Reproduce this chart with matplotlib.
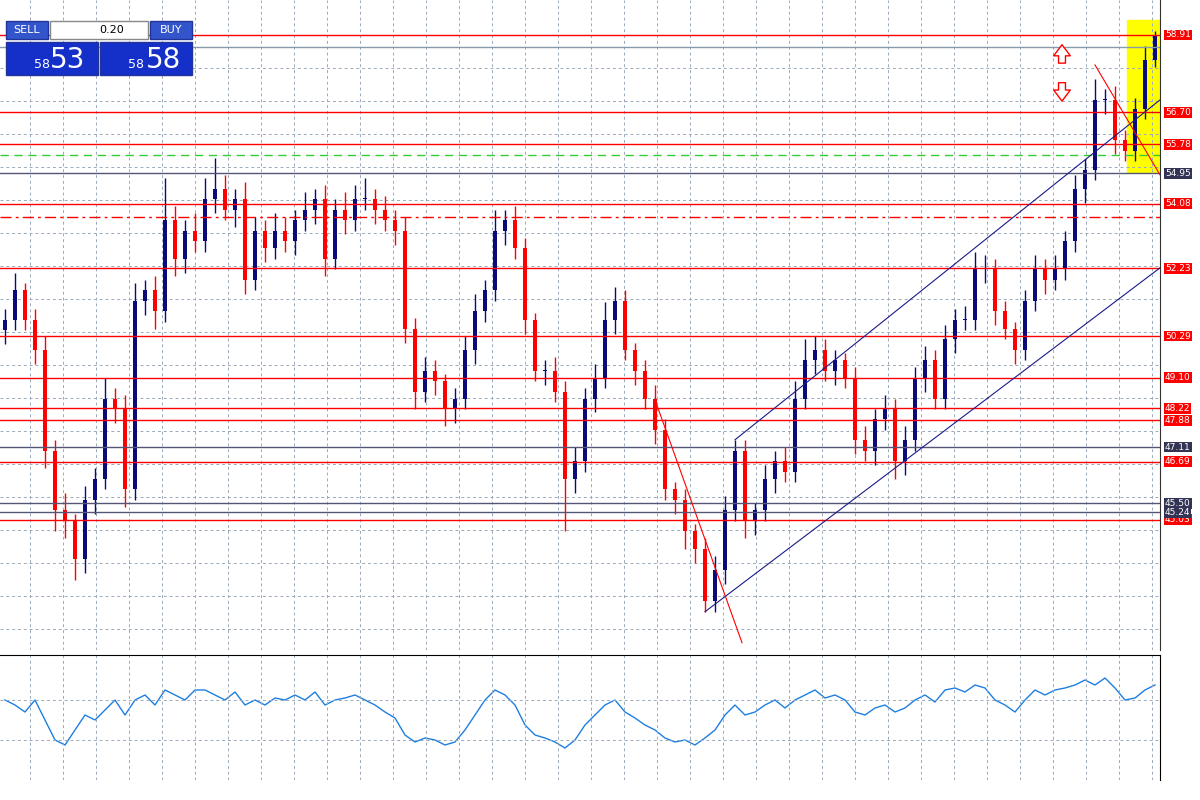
import matplotlib
matplotlib.use("Agg")
import matplotlib.pyplot as plt
from matplotlib.patches import Rectangle

closes = [50.75,51.6,50.75,49.9,47.0,45.3,45.0,43.9,45.6,46.2,48.5,48.2,45.9,51.3,51.6,51.0,53.6,52.5,53.3,53.0,
          54.2,54.5,53.9,54.2,51.9,53.3,52.8,53.3,53.0,53.6,53.9,54.2,52.5,53.9,53.6,54.2,54.2,53.9,53.6,53.3,
          50.5,48.7,49.3,49.0,48.2,48.5,49.9,51.0,51.6,53.3,53.6,52.8,50.75,49.3,49.3,48.7,46.2,46.7,48.5,49.1,
          50.75,51.3,49.9,49.3,48.5,47.6,45.9,45.6,44.7,44.2,42.7,43.6,45.3,47.0,45.0,45.3,46.2,46.7,46.4,48.5,
          49.6,49.9,49.3,49.6,49.1,47.3,47.0,47.9,48.2,46.7,47.3,49.1,49.6,48.5,50.2,50.75,50.75,52.2,52.2,51.0,
          50.5,49.9,51.3,52.2,51.9,52.2,53.0,54.5,55.05,57.05,57.05,55.9,55.6,56.8,58.2,58.91]
wick_up = [0.3,0.5,0.2,0.3,0.4,0.3,0.5,0.2,0.4,0.3,0.6,0.3,0.4,0.5,0.3,0.4,1.2,0.4,0.3,0.5,
           0.6,0.9,0.4,0.3,0.5,0.4,0.3,0.5,0.4,0.3,0.5,0.3,0.4,0.3,0.5,0.4,0.6,0.3,0.4,0.3,
           0.4,0.3,0.4,0.3,0.2,0.3,0.4,0.5,0.3,0.6,0.3,0.4,0.3,0.2,0.3,0.4,0.3,0.4,0.3,0.4,
           0.5,0.4,0.3,0.2,0.3,0.4,0.3,0.2,0.3,0.2,0.3,0.4,0.4,0.3,0.3,0.2,0.4,0.3,0.4,0.5,
           0.6,0.4,0.3,0.3,0.2,0.3,0.4,0.3,0.4,0.3,0.4,0.3,0.4,0.3,0.4,0.3,0.4,0.5,0.4,0.3,
           0.3,0.2,0.3,0.4,0.3,0.4,0.3,0.4,0.3,0.6,0.3,0.4,0.3,0.3,0.4,0.1]
wick_dn = [0.4,0.3,0.3,0.4,0.5,0.6,0.5,0.6,0.4,0.4,0.3,0.4,0.5,0.3,0.4,0.5,0.3,0.5,0.4,0.3,
           0.3,0.4,0.3,0.5,0.4,0.3,0.4,0.3,0.3,0.4,0.3,0.4,0.5,0.3,0.4,0.3,0.3,0.4,0.3,0.4,
           0.4,0.5,0.3,0.4,0.5,0.4,0.3,0.4,0.3,0.3,0.4,0.3,0.4,0.3,0.4,0.3,1.5,0.4,0.3,0.4,
           0.3,0.4,0.3,0.4,0.3,0.4,0.3,0.4,0.5,0.4,0.3,0.3,0.4,0.3,0.5,0.4,0.3,0.4,0.3,0.3,
           0.3,0.4,0.3,0.4,0.3,0.4,0.3,0.4,0.3,0.5,0.4,0.3,0.4,0.3,0.3,0.4,0.3,0.3,0.4,0.4,
           0.3,0.4,0.3,0.3,0.4,0.3,0.3,0.3,0.4,0.3,0.4,0.4,0.3,0.3,0.3,0.2]
ind = [700,705,712,700,720,740,745,730,715,720,710,700,715,700,695,705,690,695,700,690,
       690,695,700,692,705,700,705,698,700,695,700,692,705,700,698,695,700,705,712,718,
       735,742,738,740,745,742,730,715,700,690,695,705,725,735,738,742,748,740,725,715,
       705,700,712,718,725,730,738,742,740,745,738,730,715,705,715,712,705,700,708,700,
       695,690,698,695,700,712,715,708,705,712,708,700,695,702,690,688,692,685,688,700,
       705,712,700,690,695,690,688,685,680,685,678,688,700,698,690,685]
red_levels = [58.91,56.70,55.78,54.08,52.23,50.29,49.10,48.22,47.88,46.69,45.03]
gray_levels = [54.95,47.11,45.50,45.24]

fig = plt.figure(figsize=(12,8), dpi=100)
fig.patch.set_facecolor("white")
ax = fig.add_axes([0, 150/800, 1160/1200, 650/800])
ax.set_xlim(-0.5, 115.5); ax.set_ylim(41.3, 59.91)
opens = [closes[0]-0.3] + closes[:-1]
for i,(o,c) in enumerate(zip(opens,closes)):
    col = "#0a0a78" if c >= o else "red"
    hi = max(o,c)+wick_up[i]; lo = min(o,c)-wick_dn[i]
    ax.vlines(i, lo, hi, color=col, lw=1)
    ax.add_patch(Rectangle((i-0.2, min(o,c)), 0.4, max(abs(c-o),0.03), color=col, lw=0))
for lv in red_levels:
    ax.axhline(lv, color="red", lw=1)
for lv in gray_levels:
    ax.axhline(lv, color="#555577", lw=1)
ax.axhline(58.57, color="#8899aa", lw=1)
ax.axhline(55.47, color="#33cc33", lw=1, ls=(0,(6,4)))
ax.axhline(53.7, color="red", lw=1, ls=(0,(8,3,2,3)))
px = lambda x: (x-5)/10
py = lambda y: 58.91-(y-35)/34.94
ax.plot([px(735),px(1160)],[py(440),py(100)], color="#1a1a88", lw=0.8)
ax.plot([px(705),px(1160)],[py(612),py(268)], color="#1a1a88", lw=0.8)
ax.plot([px(655),px(742)],[py(400),py(643)], color="red", lw=0.8)
ax.plot([px(1095),px(1160)],[py(65),py(175)], color="red", lw=0.8)
ax.add_patch(Rectangle((px(1127), py(172)), (1160-1127)/10, 152/34.94, color="yellow", zorder=0))
ax.set_yticks([]); ax.set_xticks([])
for y in range(35, 650, 33):
    ax.axhline(py(y), color="#99aabb", lw=0.7, ls=(0,(3,3)), zorder=0)
for x in range(30, 1160, 33):
    ax.axvline(px(x), color="#99aabb", lw=0.7, ls=(0,(3,3)), zorder=0)
for s in ax.spines.values(): s.set_visible(False)
ax.spines["right"].set_visible(True); ax.spines["right"].set_color("#333333")
for lv in red_levels + gray_levels:
    fc = "red" if lv in red_levels else "#333355"
    ax.text(116.0, lv, f"{lv:.2f}", fontsize=6.5, color="white", va="center", ha="left",
            bbox=dict(boxstyle="square,pad=0.1", fc=fc, ec="none"), clip_on=False)
ax.annotate("", xy=(px(1062),py(42)), xytext=(px(1062),py(66)),
            arrowprops=dict(arrowstyle="simple,head_width=1.2,head_length=0.8,tail_width=0.5", fc="white", ec="red"))
ax.annotate("", xy=(px(1062),py(104)), xytext=(px(1062),py(80)),
            arrowprops=dict(arrowstyle="simple,head_width=1.2,head_length=0.8,tail_width=0.5", fc="white", ec="red"))

ax2 = fig.add_axes([0, 20/800, 1160/1200, 125/800])
ax2.plot(range(len(ind)), ind, color="#1e7fe0", lw=1)
ax2.set_xlim(-0.5,115.5); ax2.set_ylim(780,655)
ax2.set_xticks([]); ax2.set_yticks([])
for y in [700,740]:
    ax2.axhline(y, color="#99aabb", lw=0.7, ls=(0,(3,3)))
for x in range(30,1160,33):
    ax2.axvline(px(x), color="#99aabb", lw=0.7, ls=(0,(3,3)))
for s in ax2.spines.values(): s.set_visible(False)
ax2.spines["right"].set_visible(True); ax2.spines["top"].set_visible(True)

def box(x,y,w,h,fc,ec="#223399"):
    fig.patches.append(Rectangle((x/1200,1-(y+h)/800), w/1200, h/800, transform=fig.transFigure, fc=fc, ec=ec, lw=1))
box(6,42,92,33,"#1530c8"); box(100,42,92,33,"#1530c8")
box(6,21,42,18,"#3355cc"); box(150,21,42,18,"#3355cc"); box(50,21,98,18,"white","#888888")
fig.text(27/1200,1-30/800,"SELL",color="white",fontsize=8,ha="center",va="center")
fig.text(171/1200,1-30/800,"BUY",color="white",fontsize=8,ha="center",va="center")
fig.text(112/1200,1-30/800,"0.20",color="black",fontsize=8,ha="center",va="center")
fig.text(42/1200,1-65/800,"58",color="white",fontsize=9,ha="center",va="center")
fig.text(68/1200,1-60/800,"53",color="white",fontsize=20,ha="center",va="center")
fig.text(136/1200,1-65/800,"58",color="white",fontsize=9,ha="center",va="center")
fig.text(164/1200,1-60/800,"58",color="white",fontsize=20,ha="center",va="center")
fig.savefig("out.png", dpi=100)
